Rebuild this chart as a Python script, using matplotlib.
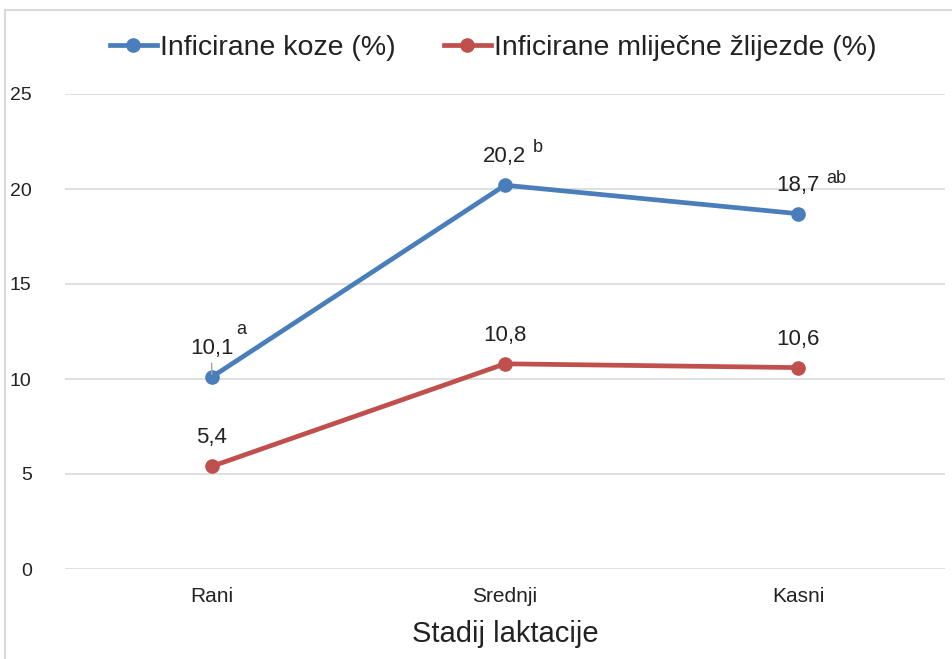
import matplotlib
matplotlib.use("Agg")
import matplotlib.pyplot as plt
from matplotlib import font_manager
from matplotlib.patches import Rectangle

names = {f.name for f in font_manager.fontManager.ttflist}
fam = "Liberation Sans Narrow" if "Liberation Sans Narrow" in names else "Liberation Sans"
plt.rcParams["font.family"] = [fam, "DejaVu Sans"]

categories = ["Rani", "Srednji", "Kasni"]
koze = [10.1, 20.2, 18.7]
zlijezde = [5.4, 10.8, 10.6]
koze_sup = ["a", "b", "ab"]
series_names = ["Inficirane koze (%)", "Inficirane mliječne žlijezde (%)"]
yticks = [0, 5, 10, 15, 20, 25]

# styling: superscript offsets in points (x, y) relative to each point
sup_offsets = [(18, 34), (20, 27), (20, 25)]

W, H = 953, 659
fig = plt.figure(figsize=(W / 100, H / 100), dpi=100)
ax = fig.add_axes([65 / W, 1 - 569 / H, 880 / W, 475 / H])

fig.patches.append(Rectangle((5 / W, -0.1), 1.2, 1 - 10 / H + 0.1, transform=fig.transFigure,
                             fill=False, edgecolor="#d9d9d9", linewidth=1.5))

blue = "#4a7ebb"
red = "#c0504d"
x = list(range(len(categories)))
l1, = ax.plot(x, koze, color=blue, lw=3.4, marker="o", ms=9.5, label=series_names[0], zorder=3)
l2, = ax.plot(x, zlijezde, color=red, lw=3.4, marker="o", ms=9.5, label=series_names[1], zorder=3)

ax.set_xlim(-0.5, 2.5)
ax.set_ylim(0, 25)
ax.set_yticks(yticks)
ax.set_xticks(x)
ax.set_xticklabels(categories)
ax.grid(axis="y", color="#d9d9d9", lw=1.2)
ax.set_axisbelow(True)
for s in ax.spines.values():
    s.set_visible(False)
ax.tick_params(axis="both", length=0, colors="#222222")
ax.tick_params(axis="y", pad=24, labelsize=14)
ax.tick_params(axis="x", pad=13, labelsize=15)
ax.set_xlabel("Stadij laktacije", fontsize=21, color="#222222", labelpad=10)

# value labels
for i, (v, sup) in enumerate(zip(koze, koze_sup)):
    lab = f"{v:.1f}".replace(".", ",")
    ax.annotate(lab, (i, v), xytext=(0, 13), textcoords="offset points",
                ha="center", va="bottom", fontsize=16, color="#222222")
    ax.annotate(sup, (i, v), xytext=sup_offsets[i], textcoords="offset points",
                ha="left", va="center", fontsize=13, color="#222222")
for i, v in enumerate(zlijezde):
    lab = f"{v:.1f}".replace(".", ",")
    ax.annotate(lab, (i, v), xytext=(0, 13), textcoords="offset points",
                ha="center", va="bottom", fontsize=16, color="#222222")
# leader line for first label
ax.annotate("", (0, koze[0]), xytext=(0, 12), textcoords="offset points",
            arrowprops=dict(arrowstyle="-", color="#a6a6a6", lw=1))

fig.legend(handles=[l1, l2], loc="center", bbox_to_anchor=(493 / W, 1 - 48 / H), ncol=2,
           frameon=False, fontsize=20.5, handlelength=1.65, handletextpad=0.1,
           columnspacing=1.7, labelcolor="#222222", borderpad=0, borderaxespad=0)

fig.savefig("out.png", dpi=100)
